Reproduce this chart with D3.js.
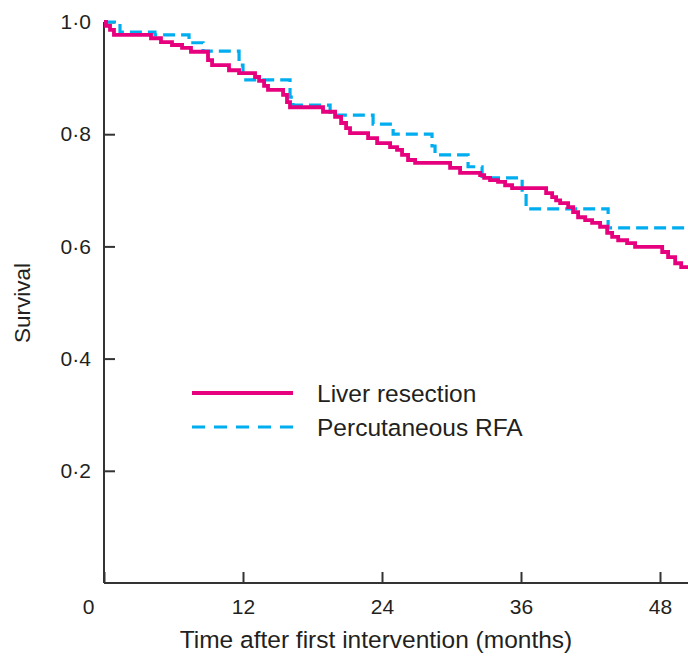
<!DOCTYPE html>
<html>
<head>
<meta charset="utf-8">
<script src="https://cdn.jsdelivr.net/npm/d3@7"></script>
<style>
  html, body { margin: 0; padding: 0; background: #fff; }
  svg { display: block; font-family: "Liberation Sans", Arial, Helvetica, sans-serif; }
</style>
</head>
<body>
<svg id="chart" width="688" height="656"></svg>
<script>
// Kaplan–Meier survival estimates: event times (months) and survival after each step
const resectionTimes = [0, 0.17, 0.52, 0.86, 4.06, 4.92, 5.87, 6.74, 7.51, 8.98, 9.33, 10.79, 11.66,
  13.04, 13.39, 13.82, 14.16, 15.46, 15.80, 16.06, 18.91, 19.95, 20.47, 20.90, 21.24, 22.80, 23.58,
  24.70, 25.30, 25.73, 26.25, 26.86, 29.88, 30.74, 32.47, 32.82, 33.33, 34.02, 34.63, 35.23, 38.17,
  38.69, 39.03, 39.38, 40.07, 40.50, 40.93, 41.54, 42.14, 42.83, 43.44, 43.87, 44.39, 45.16, 45.85,
  48.19, 48.70, 49.31, 49.83, 52];
const resectionSurvival = [1.0, 0.993, 0.986, 0.977, 0.971, 0.964, 0.959, 0.954, 0.947, 0.932, 0.923,
  0.914, 0.909, 0.902, 0.895, 0.886, 0.879, 0.870, 0.857, 0.848, 0.840, 0.831, 0.820, 0.811, 0.802,
  0.793, 0.784, 0.777, 0.772, 0.763, 0.754, 0.749, 0.740, 0.731, 0.727, 0.722, 0.718, 0.715, 0.709,
  0.704, 0.695, 0.688, 0.682, 0.677, 0.670, 0.661, 0.652, 0.647, 0.642, 0.635, 0.624, 0.617, 0.611,
  0.606, 0.599, 0.590, 0.581, 0.570, 0.563, 0.563];

const rfaTimes = [0, 1.38, 4.40, 7.34, 8.55, 11.66, 12.0, 16.06, 16.32, 19.52, 23.23, 24.96, 28.32,
  28.58, 31.43, 32.64, 36.10, 36.44, 43.52, 52];
const rfaSurvival = [1.0, 0.982, 0.977, 0.963, 0.948, 0.923, 0.897, 0.866, 0.852, 0.834, 0.818,
  0.800, 0.779, 0.763, 0.742, 0.722, 0.695, 0.667, 0.633, 0.633];

const xTicks = [0, 12, 24, 36, 48];
const yTicks = [0.2, 0.4, 0.6, 0.8, 1.0];
const seriesNames = ["Liver resection", "Percutaneous RFA"];
const seriesColors = ["#e6007e", "#00aeef"];

const svg = d3.select("#chart");
const x0 = 104, y0 = 583;

const x = d3.scaleLinear().domain([0, 48]).range([x0, 660]);
const y = d3.scaleLinear().domain([0, 1]).range([y0, 22]);

const fmt = d => d3.format(".1f")(d).replace(".", "\u00b7");

// Y axis with inward ticks
const yAxis = svg.append("g")
  .attr("transform", `translate(${x0},0)`)
  .call(d3.axisLeft(y).tickValues(yTicks).tickSize(-11).tickPadding(12).tickFormat(fmt));
yAxis.select(".domain").attr("d", `M0,${y(0)}V${y(1)}`);

// X axis with inward ticks, extending past the right edge
const xAxis = svg.append("g")
  .attr("transform", `translate(0,${y0})`)
  .call(d3.axisBottom(x).tickValues(xTicks).tickSize(-11).tickPadding(12).tickFormat(d3.format("d")));
xAxis.select(".domain").attr("d", `M${x0},0H700`);

svg.selectAll(".domain").attr("stroke", "#333").attr("stroke-width", 2);
svg.selectAll(".tick line").attr("stroke", "#333").attr("stroke-width", 2);
svg.selectAll(".tick text").attr("fill", "#231f20").attr("font-size", 21);
yAxis.selectAll(".tick text").attr("dx", "-0.05em");
xAxis.selectAll(".tick text").attr("dy", "0.9em")
  .filter(d => d === 0).attr("dx", -16);

// Axis titles
svg.append("text")
  .attr("x", 376).attr("y", 648)
  .attr("text-anchor", "middle").attr("font-size", 24.5).attr("fill", "#231f20")
  .text("Time after first intervention (months)");
svg.append("text")
  .attr("transform", "translate(30,303) rotate(-90)")
  .attr("text-anchor", "middle").attr("font-size", 22.5).attr("fill", "#231f20")
  .text("Survival");

// Survival step curves
const stepLine = d3.line()
  .x(d => x(d[0])).y(d => y(d[1]))
  .curve(d3.curveStepAfter);

const plot = svg.append("g");
plot.append("path")
  .datum(d3.zip(rfaTimes, rfaSurvival))
  .attr("d", stepLine)
  .attr("fill", "none").attr("stroke", seriesColors[1])
  .attr("stroke-width", 3.2).attr("stroke-dasharray", "12,6");
plot.append("path")
  .datum(d3.zip(resectionTimes, resectionSurvival))
  .attr("d", stepLine)
  .attr("fill", "none").attr("stroke", seriesColors[0])
  .attr("stroke-width", 3.8);

// Legend
const legend = svg.append("g");
const legendRows = [393, 427];
seriesNames.forEach((name, i) => {
  legend.append("line")
    .attr("x1", 192).attr("x2", 293)
    .attr("y1", legendRows[i]).attr("y2", legendRows[i])
    .attr("stroke", seriesColors[i])
    .attr("stroke-width", i === 0 ? 3.8 : 3.2)
    .attr("stroke-dasharray", i === 0 ? null : "13,9");
  legend.append("text")
    .attr("x", 317).attr("y", legendRows[i])
    .attr("dy", "0.35em")
    .attr("font-size", 24.5).attr("fill", "#231f20")
    .text(name);
});
</script>
</body>
</html>
